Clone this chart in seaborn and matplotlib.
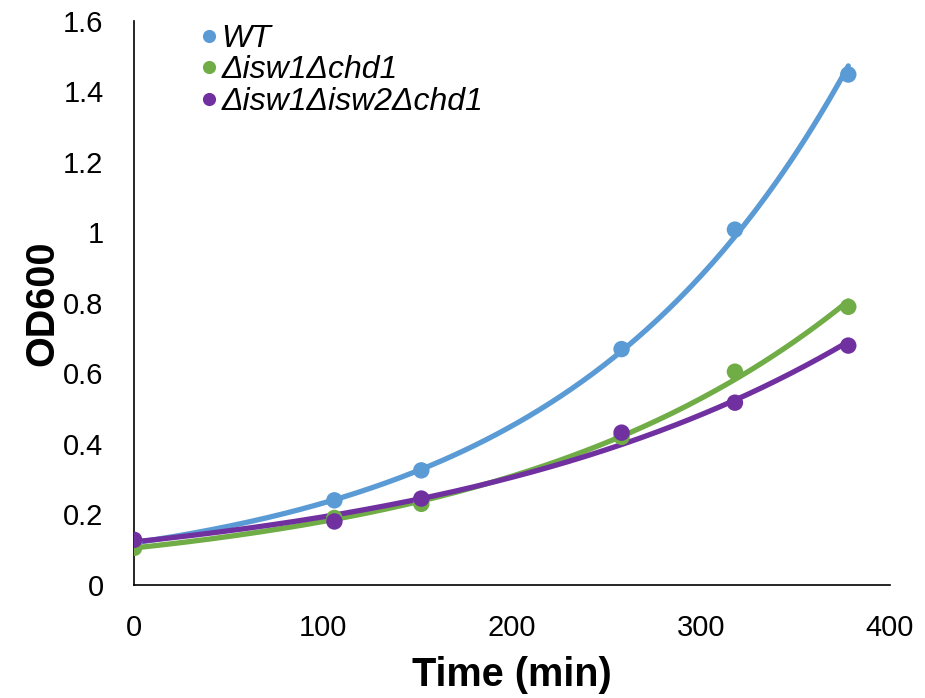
import numpy as np
import pandas as pd
import matplotlib
matplotlib.use("Agg")
import matplotlib.pyplot as plt
import seaborn as sns

# Growth curve data
time_min = [0, 106, 152, 258, 318, 378]
od_wt = [0.12, 0.24, 0.325, 0.669, 1.008, 1.448]
od_isw1_chd1 = [0.105, 0.19, 0.23, 0.42, 0.605, 0.789]
od_isw1_isw2_chd1 = [0.128, 0.18, 0.245, 0.432, 0.517, 0.679]

strains = ["WT", "Δisw1Δchd1", "Δisw1Δisw2Δchd1"]
colors = ["#5B9BD5", "#70AD47", "#7030A0"]

sns.set_style("white")
plt.rcParams["font.family"] = ["Liberation Sans", "DejaVu Sans"]
plt.rcParams["text.color"] = "black"

df = pd.DataFrame({
    "time": time_min * 3,
    "od": od_wt + od_isw1_chd1 + od_isw1_isw2_chd1,
    "strain": np.repeat(strains, len(time_min)),
})

# exponential trendlines (like Excel) fitted to each series
fits = []
xs = np.linspace(0, max(time_min), 200)
for s in strains:
    sub = df[df["strain"] == s]
    b, a = np.polyfit(sub["time"], np.log(sub["od"]), 1)
    fits.append(pd.DataFrame({"time": xs, "od": np.exp(a + b * xs), "strain": s}))
fit_df = pd.concat(fits)

fig = plt.figure(figsize=(9.25, 6.98), dpi=100)
ax = fig.add_axes([0.145, 0.162, 0.817, 0.808])

palette = dict(zip(strains, colors))
sns.lineplot(data=fit_df, x="time", y="od", hue="strain", palette=palette,
             linewidth=3.8, legend=False, ax=ax)
sns.scatterplot(data=df, x="time", y="od", hue="strain", palette=palette,
                s=140, edgecolor="none", ax=ax, zorder=3)

ax.set_xlim(0, 400)
ax.set_ylim(0, 1.6)
ax.set_xticks([0, 100, 200, 300, 400])
ax.set_yticks([0, 0.2, 0.4, 0.6, 0.8, 1.0, 1.2, 1.4, 1.6])
ax.set_yticklabels(["0", "0.2", "0.4", "0.6", "0.8", "1", "1.2", "1.4", "1.6"])
ax.tick_params(axis="both", labelsize=21, length=0, labelcolor="black")
ax.tick_params(axis="x", pad=21)
ax.tick_params(axis="y", pad=22)
ax.set_xlabel("Time (min)", fontsize=28.5, fontweight="bold", labelpad=10, color="black")
ax.set_ylabel("OD600", fontsize=28.5, fontweight="bold", labelpad=1, color="black")

for side in ["top", "right"]:
    ax.spines[side].set_visible(False)
for side in ["left", "bottom"]:
    ax.spines[side].set_color("black")
    ax.spines[side].set_linewidth(1.2)

leg = ax.legend(loc="upper left", bbox_to_anchor=(0.082, 0.995), frameon=False,
                fontsize=23, handlelength=0.8, handletextpad=0.0, labelspacing=0.05,
                borderaxespad=0, borderpad=0, markerscale=0.8)
for t in leg.get_texts():
    t.set_fontstyle("italic")

fig.savefig("out.png", dpi=100)
